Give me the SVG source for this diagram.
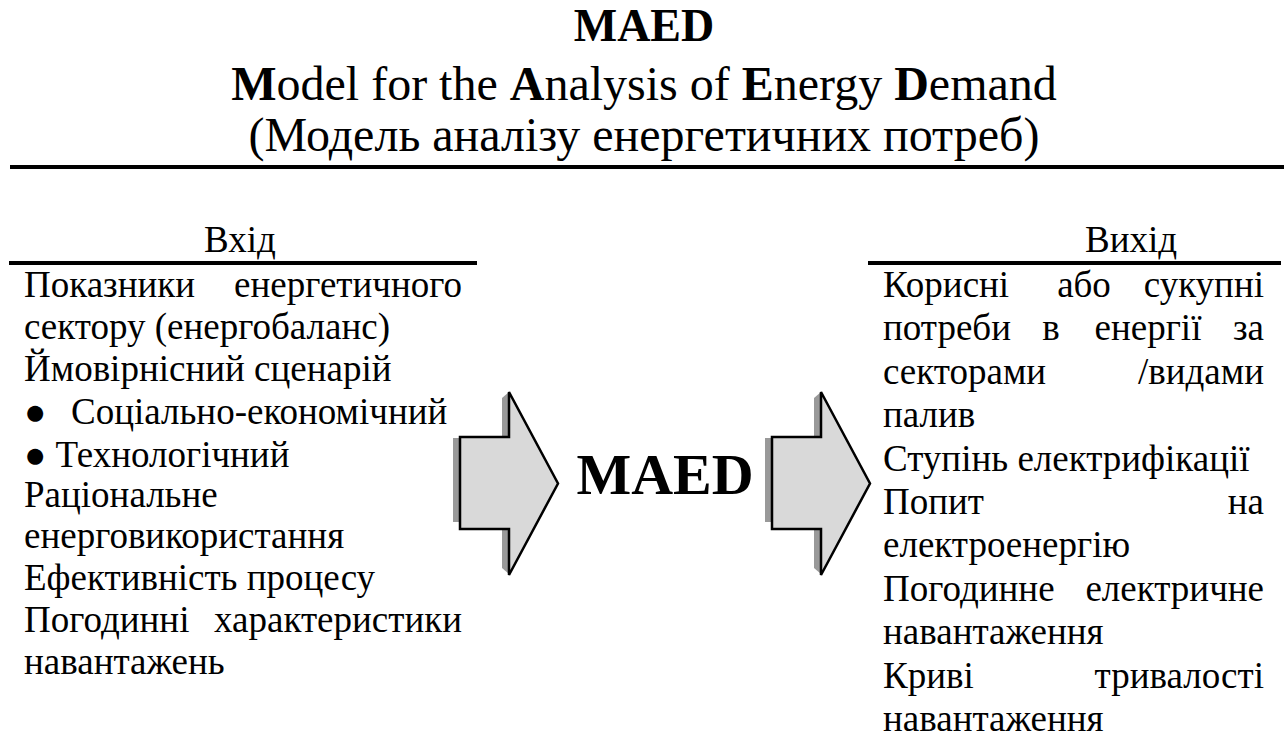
<svg xmlns="http://www.w3.org/2000/svg" width="1287" height="737" viewBox="0 0 1287 737">
<style>
.t{font-family:"Liberation Serif","Times New Roman",serif;fill:#000}
.title{font-size:46px;font-weight:bold}
.sub{font-size:48px}
.b{font-weight:bold}
.body{font-size:37px}
.e{text-anchor:end}
.m{text-anchor:middle}
.arrow{fill:#d9d9d9;stroke:#000;stroke-width:2.5;stroke-linejoin:miter}
.shadow{fill:#999}
.maed{font-size:58px;font-weight:bold}
</style>
<rect width="1287" height="737" fill="#fff"/>
<g id="title">
<text class="t title m" x="644" y="41">MAED</text>
<text class="t sub m" x="644" y="100"><tspan class="b">M</tspan>odel for the <tspan class="b">A</tspan>nalysis of <tspan class="b">E</tspan>nergy <tspan class="b">D</tspan>emand</text>
<text class="t sub m" x="644" y="151">(Модель аналізу енергетичних потреб)</text>
<rect x="10" y="165" width="1274" height="4" fill="#000"/>
</g>
<g id="input">
<text class="t body m" x="240" y="252">Вхід</text>
<rect x="9" y="261" width="468" height="4" fill="#000"/>
<text class="t body" x="24" y="297">Показники</text>
<text class="t body e" x="462" y="297">енергетичного</text>
<text class="t body" x="24" y="339">сектору (енергобаланс)</text>
<text class="t body" x="24" y="381">Ймовірнісний сценарій</text>
<text class="t body" x="24" y="424">●</text>
<text class="t body" x="71" y="424">Соціально-економічний</text>
<text class="t body" x="24" y="467">● Технологічний</text>
<text class="t body" x="24" y="507">Раціональне</text>
<text class="t body" x="24" y="548">енерговикористання</text>
<text class="t body" x="24" y="590">Ефективність процесу</text>
<text class="t body" x="24" y="632">Погодинні</text>
<text class="t body e" x="462" y="632">характеристики</text>
<text class="t body" x="24" y="674">навантажень</text>
</g>
<g id="output">
<text class="t body m" x="1131" y="252">Вихід</text>
<rect x="868" y="261" width="413" height="4" fill="#000"/>
<text class="t body" x="883" y="297">Корисні</text>
<text class="t body m" x="1084" y="297">або</text>
<text class="t body e" x="1264" y="297">сукупні</text>
<text class="t body" x="883" y="340">потреби</text>
<text class="t body m" x="1051" y="340">в</text>
<text class="t body m" x="1148" y="340">енергії</text>
<text class="t body e" x="1264" y="340">за</text>
<text class="t body" x="883" y="384">секторами</text>
<text class="t body e" x="1264" y="384">/видами</text>
<text class="t body" x="883" y="427">палив</text>
<text class="t body" x="883" y="471">Ступінь електрифікації</text>
<text class="t body" x="883" y="514">Попит</text>
<text class="t body e" x="1264" y="514">на</text>
<text class="t body" x="883" y="557">електроенергію</text>
<text class="t body" x="883" y="601">Погодинне</text>
<text class="t body e" x="1264" y="601">електричне</text>
<text class="t body" x="883" y="644">навантаження</text>
<text class="t body" x="883" y="688">Криві</text>
<text class="t body e" x="1264" y="688">тривалості</text>
<text class="t body" x="883" y="731">навантаження</text>
</g>
<g id="connectors">
<g id="arrow-in">
<rect class="shadow" x="453" y="438" width="8" height="84"/>
<polygon class="shadow" points="502,398 509,392 509,437 502,437"/>
<polygon class="shadow" points="502,528 509,528 509,574 502,568"/>
<polygon class="arrow" points="460,437 509,437 509,392 558,483.5 509,575 509,529 460,529"/>
</g>
<g id="arrow-out">
<rect class="shadow" x="765" y="438" width="8" height="84"/>
<polygon class="shadow" points="814,398 821,392 821,437 814,437"/>
<polygon class="shadow" points="814,528 821,528 821,574 814,568"/>
<polygon class="arrow" points="772,437 821,437 821,392 870,483.5 821,575 821,529 772,529"/>
</g>
</g>
<g id="maed">
<text class="t maed m" x="665" y="494">MAED</text>
</g>
</svg>
